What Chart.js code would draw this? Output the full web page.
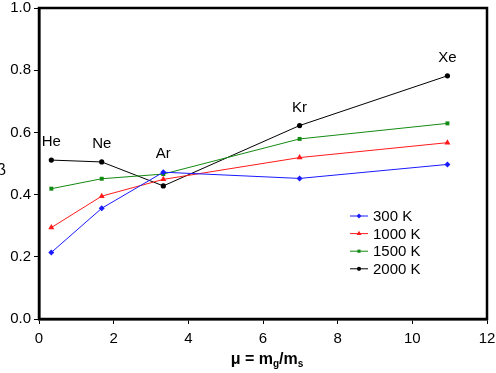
<!DOCTYPE html>
<html><head><meta charset="utf-8">
<script src="https://cdn.jsdelivr.net/npm/chart.js@4/dist/chart.umd.min.js"></script>
<style>html,body{margin:0;padding:0;background:#fff;}#wrap{width:496px;height:373px;}</style>
</head><body><div id="wrap"><canvas id="c" width="496" height="373"></canvas></div>
<script>
const gases = ["He", "Ne", "Ar", "Kr", "Xe"];
const mu = [0.33, 1.68, 3.33, 6.98, 10.94];
const t300 = [0.214, 0.356, 0.472, 0.452, 0.497];
const t1000 = [0.294, 0.395, 0.449, 0.519, 0.567];
const t1500 = [0.419, 0.451, 0.466, 0.579, 0.629];
const t2000 = [0.511, 0.505, 0.428, 0.622, 0.782];
const seriesLabels = ["300 K", "1000 K", "1500 K", "2000 K"];
const xTicks = [0, 2, 4, 6, 8, 10, 12];
const yTicks = [0.0, 0.2, 0.4, 0.6, 0.8, 1.0];

const FONT = "'Liberation Sans', Arial, Helvetica, sans-serif";
const colors = ["#1a1aff", "#ff1a1a", "#138a13", "#000000"];
const shapes = ["rectRot", "triangle", "rect", "circle"];
const radii = [3, 3.5, 2.8, 2.6];
const vals = [t300, t1000, t1500, t2000];

const datasets = vals.map((v, k) => ({
  label: seriesLabels[k],
  data: v.map((y, i) => ({x: mu[i], y: y})),
  borderColor: colors[k],
  backgroundColor: colors[k],
  pointBackgroundColor: colors[k],
  pointBorderColor: colors[k],
  pointBorderWidth: 0,
  pointStyle: shapes[k],
  pointRadius: radii[k],
  borderWidth: 1,
  tension: 0,
  fill: false
}));

const deco = {
  id: 'deco',
  afterDatasetsDraw(chart) {
    const ctx = chart.ctx, a = chart.chartArea;
    const xs = chart.scales.x, ys = chart.scales.y;
    ctx.save();
    // frame
    ctx.strokeStyle = '#000';
    ctx.lineWidth = 2.5;
    ctx.strokeRect(a.left, a.top, a.right - a.left, a.bottom - a.top);
    // gas labels
    ctx.fillStyle = '#000';
    ctx.font = "15px " + FONT;
    ctx.textAlign = 'center';
    ctx.textBaseline = 'middle';
    gases.forEach((g, i) => {
      const px = xs.getPixelForValue(mu[i]);
      let top = Infinity;
      vals.forEach(v => { top = Math.min(top, ys.getPixelForValue(v[i])); });
      ctx.fillText(g, px, top - 18);
    });
    // legend
    const lx = 350, ly = 216, dy = 17.6;
    ctx.textAlign = 'left';
    seriesLabels.forEach((lab, k) => {
      const y = ly + k * dy;
      ctx.strokeStyle = colors[k];
      ctx.lineWidth = 1;
      ctx.beginPath(); ctx.moveTo(lx, y); ctx.lineTo(lx + 18, y); ctx.stroke();
      ctx.fillStyle = colors[k];
      Chart.helpers.drawPoint(ctx, {pointStyle: shapes[k], radius: radii[k] * 0.8, borderWidth: 0}, lx + 9, y);
      ctx.fillStyle = '#000';
      ctx.fillText(lab, lx + 23, y + 1);
    });
    // x axis title with subscripts
    const bigF = "bold 16px " + FONT, smF = "bold 10px " + FONT;
    const parts = [["\u03bc = m", bigF, 0], ["g", smF, 3], ["/m", bigF, 0], ["s", smF, 3]];
    let w = 0;
    parts.forEach(p => { ctx.font = p[1]; w += ctx.measureText(p[0]).width; });
    let x = 267 - w / 2;
    const base = 364;
    ctx.textBaseline = 'alphabetic';
    parts.forEach(p => { ctx.font = p[1]; ctx.fillText(p[0], x, base + p[2]); x += ctx.measureText(p[0]).width; });
    // y axis title (clipped at left edge)
    ctx.font = "16px " + FONT;
    ctx.textAlign = 'right';
    ctx.textBaseline = 'middle';
    ctx.fillText("\u03b2", 6, 171);
    ctx.restore();
  }
};

new Chart(document.getElementById('c'), {
  type: 'line',
  data: { datasets },
  plugins: [deco],
  options: {
    responsive: false,
    animation: false,
    layout: { padding: { left: 0, right: 9, top: 8, bottom: 0 } },
    plugins: { legend: { display: false }, tooltip: { enabled: false } },
    scales: {
      x: {
        type: 'linear', min: 0, max: 12,
        afterBuildTicks: s => { s.ticks = xTicks.map(v => ({value: v})); },
        afterFit: s => { s.height = 54; s.paddingLeft = 0; s.paddingRight = 0; },
        grid: { drawOnChartArea: false, drawTicks: true, tickLength: 5, color: '#000', lineWidth: 1 },
        border: { display: true, color: '#000', width: 2.5 },
        ticks: { color: '#000', font: { family: FONT, size: 15 }, padding: 6, maxRotation: 0, callback: v => String(v) }
      },
      y: {
        type: 'linear', min: 0, max: 1,
        afterBuildTicks: s => { s.ticks = yTicks.map(v => ({value: v})); },
        afterFit: s => { s.width = 39; s.paddingTop = 0; s.paddingBottom = 0; },
        grid: { drawOnChartArea: false, drawTicks: true, tickLength: 5, color: '#000', lineWidth: 1 },
        border: { display: true, color: '#000', width: 2.5 },
        ticks: { color: '#000', font: { family: FONT, size: 15 }, padding: 3, callback: v => v.toFixed(1) }
      }
    }
  }
});
</script></body></html>
